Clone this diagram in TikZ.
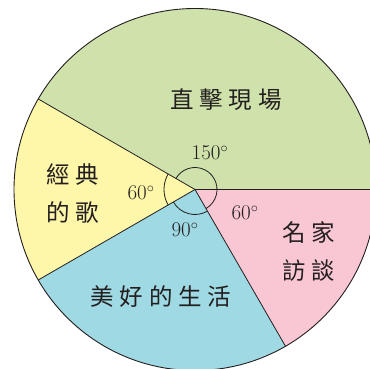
\documentclass[tikz,border=0pt]{standalone}
\usepackage{fontspec}
\newfontfamily\cjkfont[LetterSpace=25]{Noto Sans CJK TC}
\definecolor{slicegreen}{HTML}{CFE2AB}
\definecolor{sliceyellow}{HTML}{FEF6A8}
\definecolor{sliceblue}{HTML}{9FD9E3}
\definecolor{slicepink}{HTML}{F9C6D3}
\definecolor{inkdark}{HTML}{231F20}
\tikzset{
  cjklabel/.style={text=inkdark, align=center, font=\cjkfont\fontsize{23.5}{38}\selectfont},
  anglabel/.style={text=inkdark, font=\fontsize{21}{24}\selectfont},
}
\begin{document}
\begin{tikzpicture}[x=1pt,y=1pt]
\useasboundingbox (0,0) rectangle (370,369);

\coordinate (o) at (195,179.5);

%Slices
\fill[slicegreen]  (o) -- ++(0:181)   arc (0:150:181)   -- cycle;
\fill[sliceyellow] (o) -- ++(150:181) arc (150:210:181) -- cycle;
\fill[sliceblue]   (o) -- ++(210:181) arc (210:300:181) -- cycle;
\fill[slicepink]   (o) -- ++(300:181) arc (300:360:181) -- cycle;

%Outline and radii
\draw[inkdark, line width=0.9pt] (o) circle (181);
\draw[inkdark, line width=0.8pt] (o) -- ++(150:181);
\draw[inkdark, line width=0.8pt] (o) -- ++(210:181);
\draw[inkdark, line width=0.8pt] (o) -- ++(300:181);
\draw[inkdark, line width=1.8pt] (o) -- ++(0:181);

%Angle arcs
\draw[inkdark, line width=0.8pt] (o) ++(300:22) arc (300:510:22);
\draw[inkdark, line width=0.8pt] (o) ++(210:25) arc (210:300:25);
\draw[inkdark, line width=0.8pt] (o) ++(150:31) arc (150:210:31);

% Angle labels
\node[anglabel] (deggreen)  at (210,216) {150$^{\circ}$};
\node[anglabel] (degyellow) at (141,176) {60$^{\circ}$};
\node[anglabel] (degblue)   at (185,139) {90$^{\circ}$};
\node[anglabel] (degpink)   at (245,156) {60$^{\circ}$};

% Slice names
\node[cjklabel] (live)  at (226,269) {直擊現場};
\node[cjklabel] (songs) at (73,175)  {經典\\的歌};
\node[cjklabel] (life)  at (161,72)  {美好的生活};
\node[cjklabel] (talks) at (309,117) {名家\\訪談};

\end{tikzpicture}
\end{document}
